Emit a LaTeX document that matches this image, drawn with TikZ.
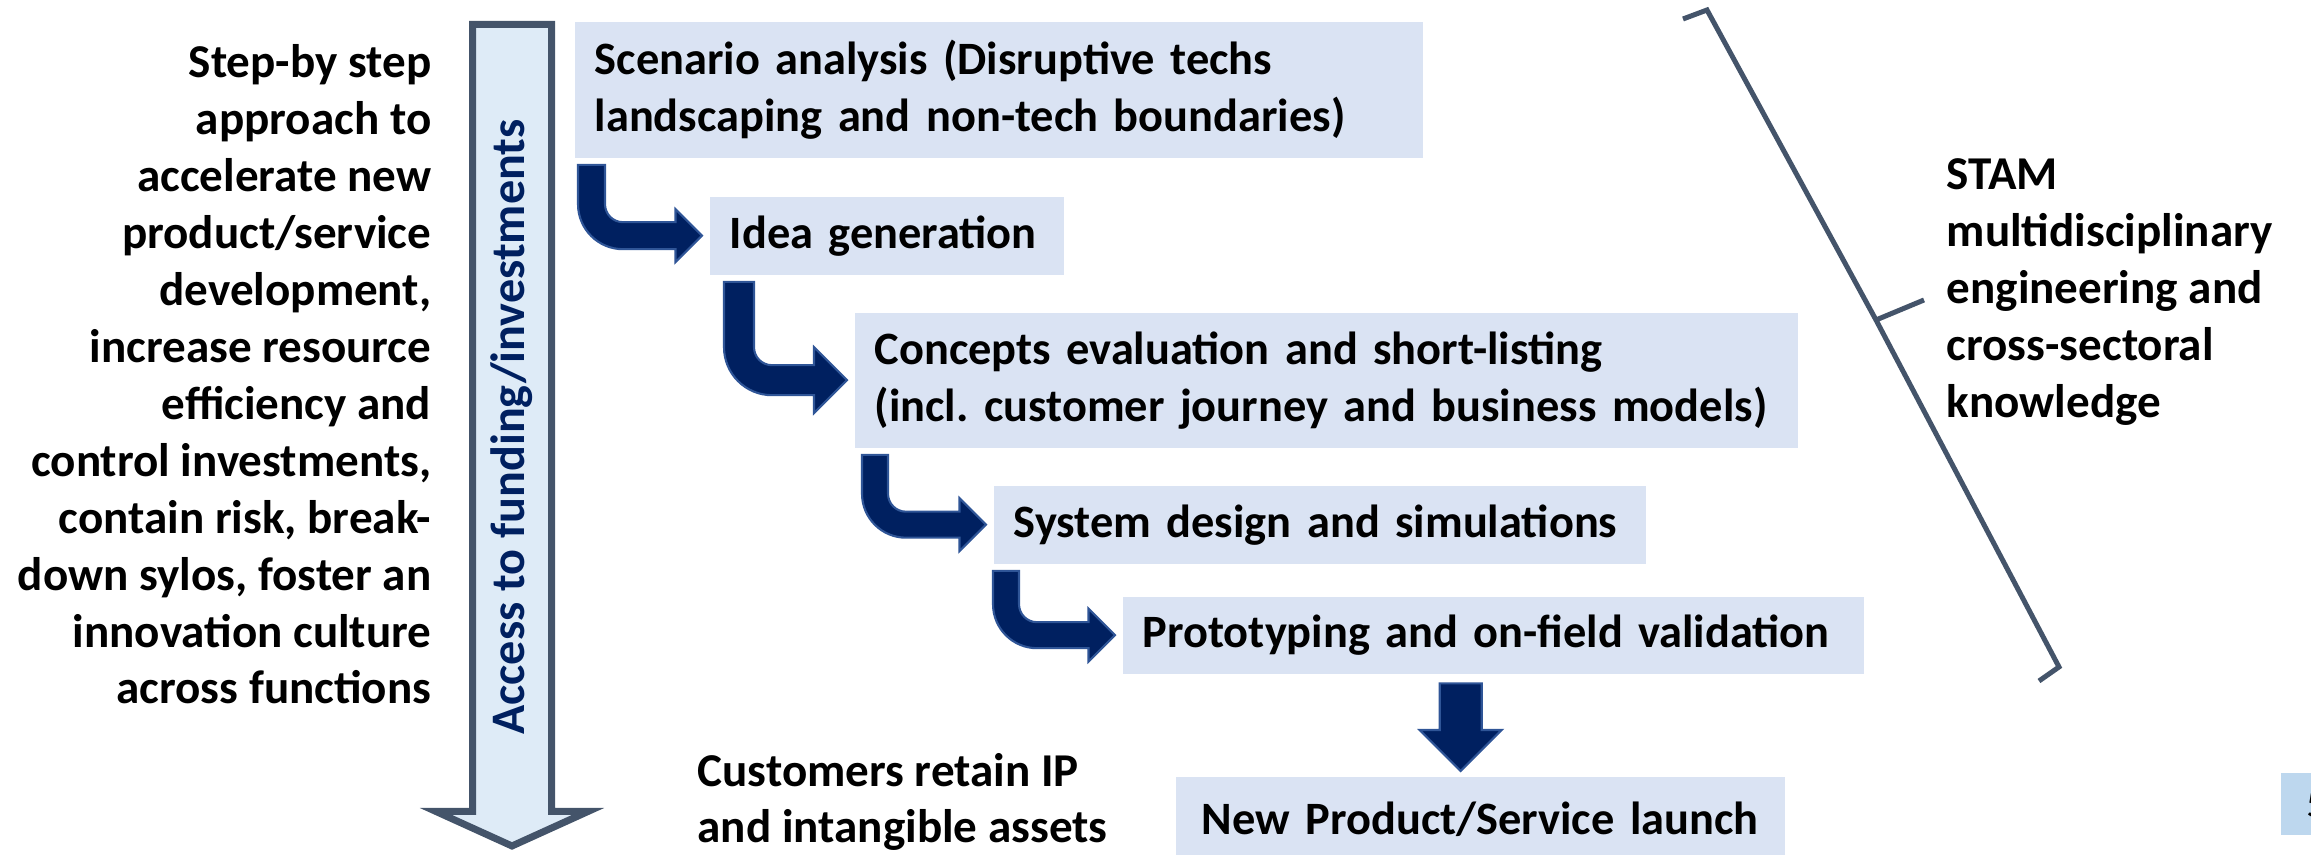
\documentclass[tikz,border=0pt]{standalone}
\usepackage{fontspec}
\setmainfont{Carlito}
\usetikzlibrary{calc}
\usetikzlibrary{positioning}
\frenchspacing

\definecolor{boxblue}{HTML}{DAE3F3}
\definecolor{navy}{HTML}{002060}
\definecolor{navyedge}{HTML}{2F5597}
\definecolor{slate}{HTML}{44546A}
\definecolor{shaftblue}{HTML}{DEEBF7}
\definecolor{pageblue}{HTML}{BDD7EE}

\tikzset{
	stepbox/.style={
		rectangle,
		fill=boxblue,
		inner xsep=0.2cm, inner ysep=0pt,
		align=left,
		anchor=north west,
		font=\fontsize{13.2}{16.2}\selectfont\bfseries},
	sidetext/.style={inner sep=0pt, font=\fontsize{13.4}{16.2}\selectfont\bfseries},
	bendarrow/.style={fill=navy, draw=navyedge, line width=0.6pt},
	brace/.style={draw=slate, line width=0.05cm, line join=miter},
	fundarrow/.style={draw=slate, fill=shaftblue, line width=0.07cm, line join=miter},
}

% bent connector: #1 source, #2 stem offset, #3 target, #4 stem width, #5 head size
\newcommand{\bendto}[5]{%
	\coordinate (s) at ($(#1.south west)+(#2,-0.065)$);
	\coordinate (t) at ($(#3.west)+(-0.07,0)$);
	\path[bendarrow] (s) -- ++(#4,0)
		-- ($(s |- t)+(#4,#4/2+0.18)$) arc[start angle=180, end angle=270, radius=0.18]
		-- ($(t)+(-#5,#4/2)$) -- ($(t)+(-#5,#5)$) -- (t) -- ($(t)+(-#5,-#5)$) -- ($(t)+(-#5,-#4/2)$)
		-- ($(s |- t)+(#4+0.18,-#4/2)$) arc[start angle=270, end angle=180, radius=#4+0.18]
		-- cycle;
}

\begin{document}
\begin{tikzpicture}
	\useasboundingbox (0,0) rectangle (23.11,8.55);
	\clip (0,0) rectangle (23.11,8.55);

	% funding arrow
	\path[fundarrow] (4.725,8.305) -- (5.515,8.305) -- (5.515,0.435) -- (5.88,0.435)
		-- (5.12,0.09) -- (4.36,0.435) -- (4.725,0.435) -- cycle;
	\node[rotate=90, text=navy, font=\fontsize{13.7}{15}\selectfont\bfseries] (fund) at (5.12,4.28) {Access to funding/investments};

	% steps
	\node[stepbox, text width=8.08cm, minimum height=1.36cm] (scen) at (5.74,8.34) {\mbox{Scenario analysis (Disruptive techs}\\\mbox{landscaping and non-tech boundaries)}};
	\node[stepbox, text width=3.14cm, minimum height=0.78cm] (idea) at (7.09,6.59) {\mbox{Idea generation}};
	\node[stepbox, text width=9.03cm, minimum height=1.35cm] (conc) at (8.54,5.43) {\mbox{Concepts evaluation and short-listing}\\\mbox{(incl. customer journey and business models)}};
	\node[stepbox, text width=6.12cm, minimum height=0.78cm] (sysd) at (9.93,3.70) {\mbox{System design and simulations}};
	\node[stepbox, text width=7.01cm, minimum height=0.77cm] (proto) at (11.22,2.59) {\mbox{Prototyping and on-field validation}};
	\node[stepbox, text width=5.69cm, minimum height=0.86cm, align=center] (launch) at (11.75,0.79) {\mbox{New Product/Service launch}};

	\bendto{scen}{0.04}{idea}{0.27}{0.265}
	\bendto{idea}{0.15}{conc}{0.30}{0.33}
	\bendto{conc}{0.08}{sysd}{0.26}{0.265}
	\bendto{sysd}{0.0}{proto}{0.26}{0.265}

	% straight down to the launch
	\coordinate (dtip) at ($(launch.north)+(-0.195,0.05)$);
	\path[bendarrow] ($(dtip |- proto.south)+(-0.21,-0.09)$) -- ++(0.42,0) -- ($(dtip)+(0.21,0.41)$)
		-- ($(dtip)+(0.41,0.41)$) -- (dtip) -- ($(dtip)+(-0.41,0.41)$) -- ($(dtip)+(-0.21,0.41)$) -- cycle;

	% side texts
	\node[sidetext, align=right, anchor=east] (goal) at (4.32,4.805) {Step-by step\\approach to\\accelerate new\\product/service\\development,\\increase resource\\efficiency and\\control investments,\\contain risk, break-\\down sylos, foster an\\innovation culture\\across functions};
	\node[sidetext, align=left, anchor=west] (ipnote) at (6.97,0.53) {Customers retain IP\\and intangible assets};
	\node[sidetext, align=left, anchor=west] (stam) at (19.46,5.63) {STAM\\multidisciplinary\\engineering and\\cross-sectoral\\knowledge};

	% brace
	\coordinate (bmid) at (18.76,5.35);
	\draw[brace] (16.83,8.36) -- (17.07,8.45) -- (bmid) -- (20.59,1.88) -- (20.39,1.74);
	\draw[brace] (bmid) -- (19.24,5.55);

	% page number
	\node[fill=pageblue, anchor=west, inner xsep=0.26cm, minimum height=0.62cm, font=\fontsize{12}{14}\selectfont] (pgno) at (22.80,0.51) {5};
\end{tikzpicture}
\end{document}
